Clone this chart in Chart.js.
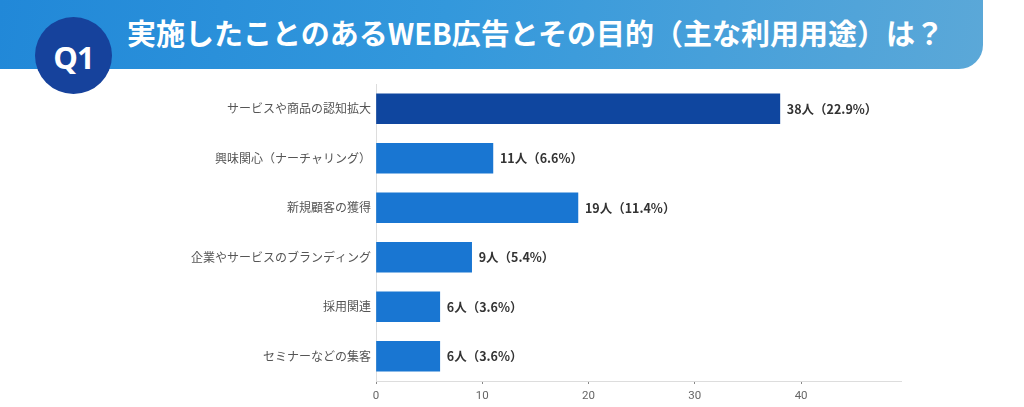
<!DOCTYPE html>
<html lang="ja">
<head>
<meta charset="utf-8">
<script src="https://cdn.jsdelivr.net/npm/chart.js@4"></script>
<style>
  html, body { margin: 0; padding: 0; background: #fff; }
  body { width: 1024px; height: 407px; position: relative; overflow: hidden; font-family: 'Noto Sans CJK JP', sans-serif; }
  .banner {
    position: absolute; left: 0; top: 0; width: 983px; height: 69px;
    border-bottom-right-radius: 24px;
    background: linear-gradient(100deg, #2188d8 0%, #3398dc 45%, #5ba8d8 100%);
  }
  .title {
    position: absolute; left: 127px; top: 12px; color: #fff;
    font-size: 29px; font-weight: 700; line-height: 40px; white-space: nowrap;
  }
  .q {
    position: absolute; left: 35px; top: 17px; width: 77px; height: 77px; border-radius: 50%;
    background: #16429c; color: #fff; font-family: 'Open Sans', sans-serif; font-weight: 700;
    font-size: 31px; line-height: 80px; text-align: center; letter-spacing: -1px;
  }
  .wrap { position: absolute; left: 0; top: 0; width: 1024px; height: 407px; }
</style>
</head>
<body>
<div class="wrap"><canvas id="c"></canvas></div>
<div class="banner"><div class="title">実施したことのあるWEB広告とその目的（主な利用用途）は？</div></div>
<div class="q">Q1</div>
<script>
const NAVY = '#0f469f';
const BLUE = '#1976d2';

const categories = [
  'サービスや商品の認知拡大',
  '興味関心（ナーチャリング）',
  '新規顧客の獲得',
  '企業やサービスのブランディング',
  '採用関連',
  'セミナーなどの集客',
];
const counts   = [38, 11, 19, 9, 6, 6];
const percents = [22.9, 6.6, 11.4, 5.4, 3.6, 3.6];
const xTicks   = [0, 10, 20, 30, 40];

const valueLabels = {
  id: 'valueLabels',
  afterDatasetsDraw(chart) {
    const { ctx } = chart;
    const meta = chart.getDatasetMeta(0);
    ctx.save();
    ctx.font = 'bold 12.5px "Noto Sans CJK JP", sans-serif';
    ctx.fillStyle = '#333';
    ctx.textBaseline = 'middle';
    ctx.textAlign = 'left';
    meta.data.forEach((bar, i) => {
      ctx.fillText(counts[i] + '人（' + percents[i] + '%）', bar.x + 7, bar.y);
    });
    ctx.restore();
  },
};

new Chart(document.getElementById('c'), {
  type: 'bar',
  data: {
    labels: categories,
    datasets: [{
      data: counts,
      backgroundColor: counts.map((v, i) => i === 0 ? NAVY : BLUE),
      barThickness: 30,
    }],
  },
  options: {
    responsive: true, maintainAspectRatio: false, indexAxis: 'y', animation: false,
    layout: { padding: { top: 84, right: 123, bottom: 0, left: 0 } },
    plugins: { legend: { display: false }, tooltip: { enabled: false } },
    scales: {
      x: {
        min: 0, max: 49.4,
        afterBuildTicks: s => { s.ticks = xTicks.map(v => ({ value: v })); },
        afterFit: s => { s.height = 407 - 381; },
        grid: { drawOnChartArea: false, drawTicks: true, tickLength: 3, color: '#888' },
        border: { color: '#ddd' },
        ticks: { color: '#666', padding: 5, font: { size: 11.5, family: 'Roboto' } },
      },
      y: {
        afterFit: s => { s.width = 376; },
        grid: { display: false, drawTicks: false },
        border: { color: '#ddd' },
        ticks: { color: '#555', padding: 5, font: { size: 12, family: '"Noto Sans CJK JP"' } },
      },
    },
  },
  plugins: [valueLabels],
});
</script>
</body>
</html>
